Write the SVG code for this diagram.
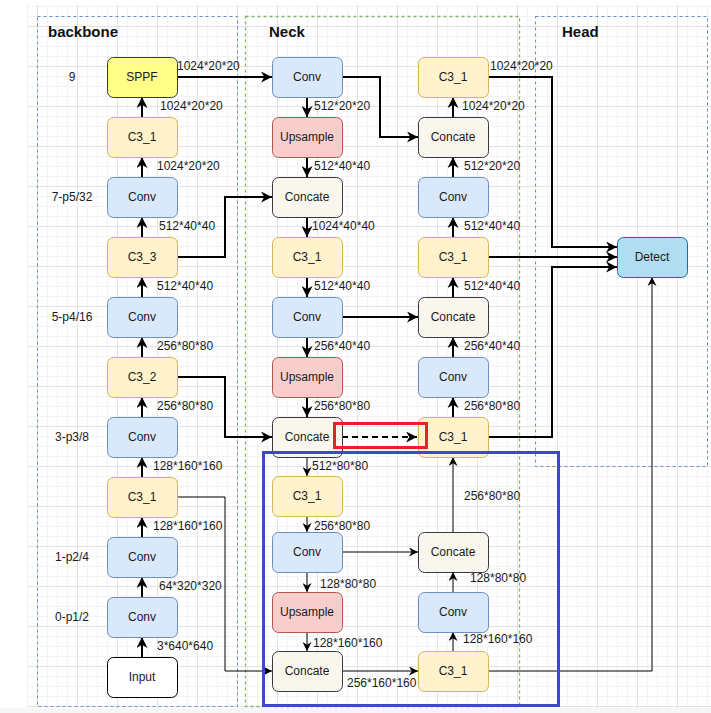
<svg xmlns="http://www.w3.org/2000/svg" width="711" height="713" viewBox="0 0 711 713">
<defs>
<pattern id="gMinor" x="7" y="6" width="10" height="10" patternUnits="userSpaceOnUse">
<path d="M0,0.5 H10 M0.5,0 V10" fill="none" stroke="#f3f3f3" stroke-width="1"/>
</pattern>
<pattern id="gMajor" x="37" y="26" width="40" height="40" patternUnits="userSpaceOnUse">
<path d="M0,0.5 H40 M0.5,0 V40" fill="none" stroke="#e3e3e3" stroke-width="1"/>
</pattern>
<marker id="ah" viewBox="0 0 10 10" refX="10" refY="5" markerWidth="11" markerHeight="11" markerUnits="userSpaceOnUse" orient="auto">
<path d="M0,0 L10,5 L0,10 L3,5 z" fill="#000"/>
</marker>
<marker id="ahs" viewBox="0 0 10 10" refX="10" refY="5" markerWidth="9" markerHeight="9" markerUnits="userSpaceOnUse" orient="auto">
<path d="M0,0 L10,5 L0,10 L3,5 z" fill="#000"/>
</marker>
</defs>
<style>
.t{font-family:"Liberation Sans",Arial,sans-serif;font-size:12px;fill:#1a1a1a}
.c{text-anchor:middle}
.h{font-family:"Liberation Sans",Arial,sans-serif;font-size:15px;font-weight:bold;fill:#111}
.e{fill:none;stroke:#000;stroke-width:2;marker-end:url(#ah)}
.e1{fill:none;stroke:#000;stroke-width:1;marker-end:url(#ahs)}
.conv{fill:#dae8fc;stroke:#6c8ebf}
.c3{fill:#fff2cc;stroke:#d6b656}
.up{fill:#f8cecc;stroke:#b85450}
.cat{fill:#f9f7ed;stroke:#36393d}
.sppf{fill:#ffff88;stroke:#36393d}
.inp{fill:#ffffff;stroke:#000}
.det{fill:#b1ddf0;stroke:#10739e}
</style>
<rect width="711" height="713" fill="#ffffff"/>
<rect x="0" y="708" width="711" height="5" fill="#f6f6f6"/>
<rect x="27" y="5" width="684" height="703" fill="url(#gMinor)"/>
<rect x="27" y="5" width="684" height="703" fill="url(#gMajor)"/>

<g id="containers" fill="none" stroke-dasharray="3,3">
<rect x="37.5" y="16.5" width="200" height="690" stroke="#6c8ebf"/>
<rect x="245.5" y="16.5" width="274" height="690" stroke="#82b366" stroke-width="1.3"/>
<rect x="535.5" y="16.5" width="172" height="450" stroke="#6c8ebf"/>
</g>
<g id="container-labels">
<text class="h" x="48" y="37">backbone</text>
<text class="h" x="269" y="37">Neck</text>
<text class="h" x="562" y="37">Head</text>
</g>
<g id="layer-labels" class="t c">
<text class="t c" x="72" y="81">9</text>
<text class="t c" x="72" y="201">7-p5/32</text>
<text class="t c" x="72" y="321">5-p4/16</text>
<text class="t c" x="72" y="441">3-p3/8</text>
<text class="t c" x="72" y="561">1-p2/4</text>
<text class="t c" x="72" y="621">0-p1/2</text>
</g>

<g id="connectors">
<path class="e" d="M142,657 V637"/>
<path class="e" d="M142,597 V577"/>
<path class="e" d="M142,537 V517"/>
<path class="e" d="M142,477 V457"/>
<path class="e" d="M142,417 V397"/>
<path class="e" d="M142,357 V337"/>
<path class="e" d="M142,297 V277"/>
<path class="e" d="M142,237 V217"/>
<path class="e" d="M142,177 V157"/>
<path class="e" d="M142,117 V97"/>
<path class="e" d="M177,77 H272"/>
<path class="e" d="M177,257 H225 V197 H272"/>
<path class="e" d="M177,377 H225 V437 H272"/>
<path class="e1" d="M177,497 H225 V671 H272" stroke="#333"/>
<path class="e" d="M307,97 V117"/>
<path class="e" d="M307,157 V177"/>
<path class="e" d="M307,217 V237"/>
<path class="e" d="M307,277 V297"/>
<path class="e" d="M307,337 V357"/>
<path class="e" d="M307,397 V417"/>
<path class="e1" d="M307,457 V476"/>
<path class="e1" d="M307,516 V532"/>
<path class="e1" d="M307,572 V592"/>
<path class="e1" d="M307,632 V651"/>
<path class="e" d="M342,77 H380 V137 H418"/>
<path class="e" d="M342,317 H418"/>
<path class="e" d="M342,437 H417" stroke-dasharray="6,4"/>
<path class="e1" d="M342,552 H418"/>
<path class="e1" d="M342,671 H418"/>
<path class="e" d="M453,117 V97"/>
<path class="e" d="M453,177 V157"/>
<path class="e" d="M453,237 V217"/>
<path class="e" d="M453,297 V277"/>
<path class="e" d="M453,357 V337"/>
<path class="e" d="M453,417 V397"/>
<path class="e1" d="M453,532 V457"/>
<path class="e1" d="M453,592 V572"/>
<path class="e1" d="M453,651 V632"/>
<path class="e" d="M488,77 H552 V247 H617"/>
<path class="e" d="M488,257 H617"/>
<path class="e" d="M488,437 H552 V267 H617"/>
<path class="e1" d="M488,671 H652 V277"/>
</g>

<g id="edge-labels" class="t">
<text class="t" x="160" y="110">1024*20*20</text>
<text class="t" x="157" y="170">1024*20*20</text>
<text class="t" x="159" y="230">512*40*40</text>
<text class="t" x="157" y="290">512*40*40</text>
<text class="t" x="157" y="350">256*80*80</text>
<text class="t" x="157" y="410">256*80*80</text>
<text class="t" x="153" y="470">128*160*160</text>
<text class="t" x="153" y="530">128*160*160</text>
<text class="t" x="159" y="590">64*320*320</text>
<text class="t" x="157" y="650">3*640*640</text>
<text class="t" x="177" y="70">1024*20*20</text>
<text class="t" x="314" y="110">512*20*20</text>
<text class="t" x="314" y="170">512*40*40</text>
<text class="t" x="312" y="230">1024*40*40</text>
<text class="t" x="314" y="290">512*40*40</text>
<text class="t" x="314" y="350">256*40*40</text>
<text class="t" x="314" y="410">256*80*80</text>
<text class="t" x="312" y="470">512*80*80</text>
<text class="t" x="314" y="530">256*80*80</text>
<text class="t" x="320" y="588">128*80*80</text>
<text class="t" x="313" y="647">128*160*160</text>
<text class="t" x="347" y="687">256*160*160</text>
<text class="t" x="462" y="110">1024*20*20</text>
<text class="t" x="464" y="170">512*20*20</text>
<text class="t" x="464" y="230">512*40*40</text>
<text class="t" x="464" y="290">512*40*40</text>
<text class="t" x="464" y="350">256*40*40</text>
<text class="t" x="464" y="410">256*80*80</text>
<text class="t" x="464" y="500">256*80*80</text>
<text class="t" x="470" y="582">128*80*80</text>
<text class="t" x="463" y="643">128*160*160</text>
<text class="t" x="490" y="70">1024*20*20</text>
</g>

<g id="n-sppf"><rect class="sppf" x="107.5" y="57.5" width="70" height="40" rx="6"/><text class="t c" x="142" y="81">SPPF</text></g>
<g id="n-bb-c3-9"><rect class="c3" x="107.5" y="117.5" width="70" height="40" rx="6"/><text class="t c" x="142" y="141">C3_1</text></g>
<g id="n-bb-conv7"><rect class="conv" x="107.5" y="177.5" width="70" height="40" rx="6"/><text class="t c" x="142" y="201">Conv</text></g>
<g id="n-bb-c3-3"><rect class="c3" x="107.5" y="237.5" width="70" height="40" rx="6"/><text class="t c" x="142" y="261">C3_3</text></g>
<g id="n-bb-conv5"><rect class="conv" x="107.5" y="297.5" width="70" height="40" rx="6"/><text class="t c" x="142" y="321">Conv</text></g>
<g id="n-bb-c3-2"><rect class="c3" x="107.5" y="357.5" width="70" height="40" rx="6"/><text class="t c" x="142" y="381">C3_2</text></g>
<g id="n-bb-conv3"><rect class="conv" x="107.5" y="417.5" width="70" height="40" rx="6"/><text class="t c" x="142" y="441">Conv</text></g>
<g id="n-bb-c3-1"><rect class="c3" x="107.5" y="477.5" width="70" height="40" rx="6"/><text class="t c" x="142" y="501">C3_1</text></g>
<g id="n-bb-conv1"><rect class="conv" x="107.5" y="537.5" width="70" height="40" rx="6"/><text class="t c" x="142" y="561">Conv</text></g>
<g id="n-bb-conv0"><rect class="conv" x="107.5" y="597.5" width="70" height="40" rx="6"/><text class="t c" x="142" y="621">Conv</text></g>
<g id="n-input"><rect class="inp" x="107.5" y="657.5" width="70" height="40" rx="6"/><text class="t c" x="142" y="681">Input</text></g>

<g id="n-nk-conv1"><rect class="conv" x="272.5" y="57.5" width="70" height="40" rx="6"/><text class="t c" x="307" y="81">Conv</text></g>
<g id="n-nk-up1"><rect class="up" x="272.5" y="117.5" width="70" height="40" rx="6"/><text class="t c" x="307" y="141">Upsample</text></g>
<g id="n-nk-cat1"><rect class="cat" x="272.5" y="177.5" width="70" height="40" rx="6"/><text class="t c" x="307" y="201">Concate</text></g>
<g id="n-nk-c3-1"><rect class="c3" x="272.5" y="237.5" width="70" height="40" rx="6"/><text class="t c" x="307" y="261">C3_1</text></g>
<g id="n-nk-conv2"><rect class="conv" x="272.5" y="297.5" width="70" height="40" rx="6"/><text class="t c" x="307" y="321">Conv</text></g>
<g id="n-nk-up2"><rect class="up" x="272.5" y="357.5" width="70" height="40" rx="6"/><text class="t c" x="307" y="381">Upsample</text></g>
<g id="n-nk-cat2"><rect class="cat" x="272.5" y="417.5" width="70" height="40" rx="6"/><text class="t c" x="307" y="441">Concate</text></g>
<g id="n-nk-c3-2"><rect class="c3" x="272.5" y="476.5" width="70" height="40" rx="6"/><text class="t c" x="307" y="500">C3_1</text></g>
<g id="n-nk-conv3"><rect class="conv" x="272.5" y="532.5" width="70" height="40" rx="6"/><text class="t c" x="307" y="556">Conv</text></g>
<g id="n-nk-up3"><rect class="up" x="272.5" y="592.5" width="70" height="40" rx="6"/><text class="t c" x="307" y="616">Upsample</text></g>
<g id="n-nk-cat3"><rect class="cat" x="272.5" y="651.5" width="70" height="40" rx="6"/><text class="t c" x="307" y="675">Concate</text></g>

<g id="n-pn-c3-top"><rect class="c3" x="418.5" y="57.5" width="70" height="40" rx="6"/><text class="t c" x="453" y="81">C3_1</text></g>
<g id="n-pn-cat1"><rect class="cat" x="418.5" y="117.5" width="70" height="40" rx="6"/><text class="t c" x="453" y="141">Concate</text></g>
<g id="n-pn-conv1"><rect class="conv" x="418.5" y="177.5" width="70" height="40" rx="6"/><text class="t c" x="453" y="201">Conv</text></g>
<g id="n-pn-c3-mid"><rect class="c3" x="418.5" y="237.5" width="70" height="40" rx="6"/><text class="t c" x="453" y="261">C3_1</text></g>
<g id="n-pn-cat2"><rect class="cat" x="418.5" y="297.5" width="70" height="40" rx="6"/><text class="t c" x="453" y="321">Concate</text></g>
<g id="n-pn-conv2"><rect class="conv" x="418.5" y="357.5" width="70" height="40" rx="6"/><text class="t c" x="453" y="381">Conv</text></g>
<g id="n-pn-c3-p3"><rect class="c3" x="418.5" y="417.5" width="70" height="40" rx="6"/><text class="t c" x="453" y="441">C3_1</text></g>
<g id="n-pn-cat3"><rect class="cat" x="418.5" y="532.5" width="70" height="40" rx="6"/><text class="t c" x="453" y="556">Concate</text></g>
<g id="n-pn-conv3"><rect class="conv" x="418.5" y="592.5" width="70" height="40" rx="6"/><text class="t c" x="453" y="616">Conv</text></g>
<g id="n-pn-c3-bot"><rect class="c3" x="418.5" y="651.5" width="70" height="40" rx="6"/><text class="t c" x="453" y="675">C3_1</text></g>

<g id="n-detect"><rect class="det" x="617.5" y="237.5" width="70" height="40" rx="6"/><text class="t c" x="652" y="261">Detect</text></g>

<g id="highlights" fill="none" stroke-width="3">
<rect x="334.5" y="423.5" width="92" height="24" stroke="#e8202a"/>
<rect x="263.5" y="452.5" width="295" height="253" stroke="#3f48cc"/>
</g>
</svg>
